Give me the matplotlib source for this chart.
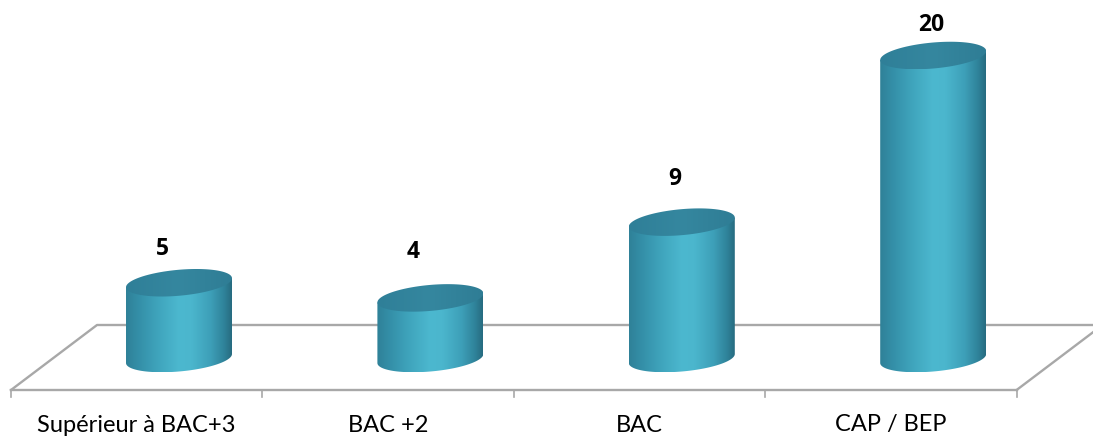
import numpy as np
import matplotlib
matplotlib.use('Agg')
import matplotlib.pyplot as plt
from matplotlib.colors import LinearSegmentedColormap
from matplotlib.patches import Polygon

categories = ['Supérieur à BAC+3', 'BAC +2', 'BAC', 'CAP / BEP']
values = [5, 4, 9, 20]

# value label offsets, in pixels from the left rim of each cylinder top
label_dx = [-17, -17, -7, -2]
label_dy = [38, 50, 48, 35]

W, H = 1093, 437
PX_X = 251.4     # pixels per category
PX_Y = 15.15     # pixels per value unit
X0, Y0 = 179, 363  # pixel position of category 0, value 0
HALF_W = 53 / PX_X
TICK_SHIFT = (11 - X0) / PX_X
FRONT_Y = (Y0 - 390) / PX_Y
BACK_Y = (Y0 - 325) / PX_Y
GREY = '#a8a8a8'

body_cmap = LinearSegmentedColormap.from_list('body', [
    (0.0, '#2f8198'), (0.12, '#348fa8'), (0.3, '#3fa4bc'), (0.5, '#4cb8cf'),
    (0.62, '#4bb6cd'), (0.8, '#3d9fb8'), (0.93, '#2f8299'), (1.0, '#276c80')])
top_cmap = LinearSegmentedColormap.from_list('top', ['#2f7f98', '#35879f', '#2f7d95'])

fig = plt.figure(figsize=(W / 100, H / 100), dpi=100)
ax = fig.add_axes([0, 0, 1, 1])
ax.set_xlim(-X0 / PX_X, (W - X0) / PX_X)
ax.set_ylim((Y0 - H) / PX_Y, Y0 / PX_Y)
ax.axis('off')


def rim(i, v, t):
    # tilted ellipse, left edge sits exactly on the value
    x = i + HALF_W * np.cos(t)
    y = v + (4.5 + 4.5 * np.cos(t) + 13 * np.sin(t)) / PX_Y
    return np.column_stack([x, y])


def gradient_fill(i, verts, cmap, zorder):
    grad = np.linspace(0, 1, 256).reshape(1, -1)
    y_lo, y_hi = verts[:, 1].min(), verts[:, 1].max()
    im = ax.imshow(grad, cmap=cmap, aspect='auto', zorder=zorder,
                   extent=[i - HALF_W, i + HALF_W, y_lo, y_hi])
    im.set_clip_path(Polygon(verts, closed=True, transform=ax.transData))


# --- floor ---
n = len(categories)
ticks = [k + TICK_SHIFT for k in range(n + 1)]
right_end = (W - X0) / PX_X
slope = (BACK_Y - FRONT_Y) / ((97 - 11) / PX_X)
ax.plot([ticks[0], ticks[-1]], [FRONT_Y, FRONT_Y], color=GREY, lw=1.7, zorder=1)
ax.plot([ticks[0], ticks[0] + (97 - 11) / PX_X, right_end], [FRONT_Y, BACK_Y, BACK_Y],
        color=GREY, lw=1.7, zorder=1)
ax.plot([ticks[-1], right_end],
        [FRONT_Y, FRONT_Y + slope * (right_end - ticks[-1])], color=GREY, lw=1.7, zorder=1)
for tk in ticks:
    ax.plot([tk, tk], [FRONT_Y, FRONT_Y - 7 / PX_Y], color=GREY, lw=1.2, zorder=1)

# --- cylinders ---
for i, v in enumerate(values):
    lower = rim(i, 0, np.linspace(np.pi, 2 * np.pi, 80))
    top_right = rim(i, v, np.array([0.0]))
    top_left = rim(i, v, np.array([np.pi]))
    body = np.vstack([lower, top_right, top_left])
    gradient_fill(i, body, body_cmap, 2)

    cap = rim(i, v, np.linspace(0, 2 * np.pi, 160))
    gradient_fill(i, cap, top_cmap, 3)

    ax.text(i + label_dx[i] / PX_X, v + label_dy[i] / PX_Y, str(v),
            ha='center', va='center', family='Open Sans', fontweight='bold',
            fontsize=16.5, color='black', zorder=4)

# --- category labels ---
for k, name in enumerate(categories):
    ax.text((ticks[k] + ticks[k + 1]) / 2, (Y0 - 425) / PX_Y, name,
            ha='center', va='center', family='Lato', fontsize=17, color='black')

ax.set_xlim(-X0 / PX_X, (W - X0) / PX_X)
ax.set_ylim((Y0 - H) / PX_Y, Y0 / PX_Y)
fig.savefig('out.png', dpi=100, facecolor='white')
